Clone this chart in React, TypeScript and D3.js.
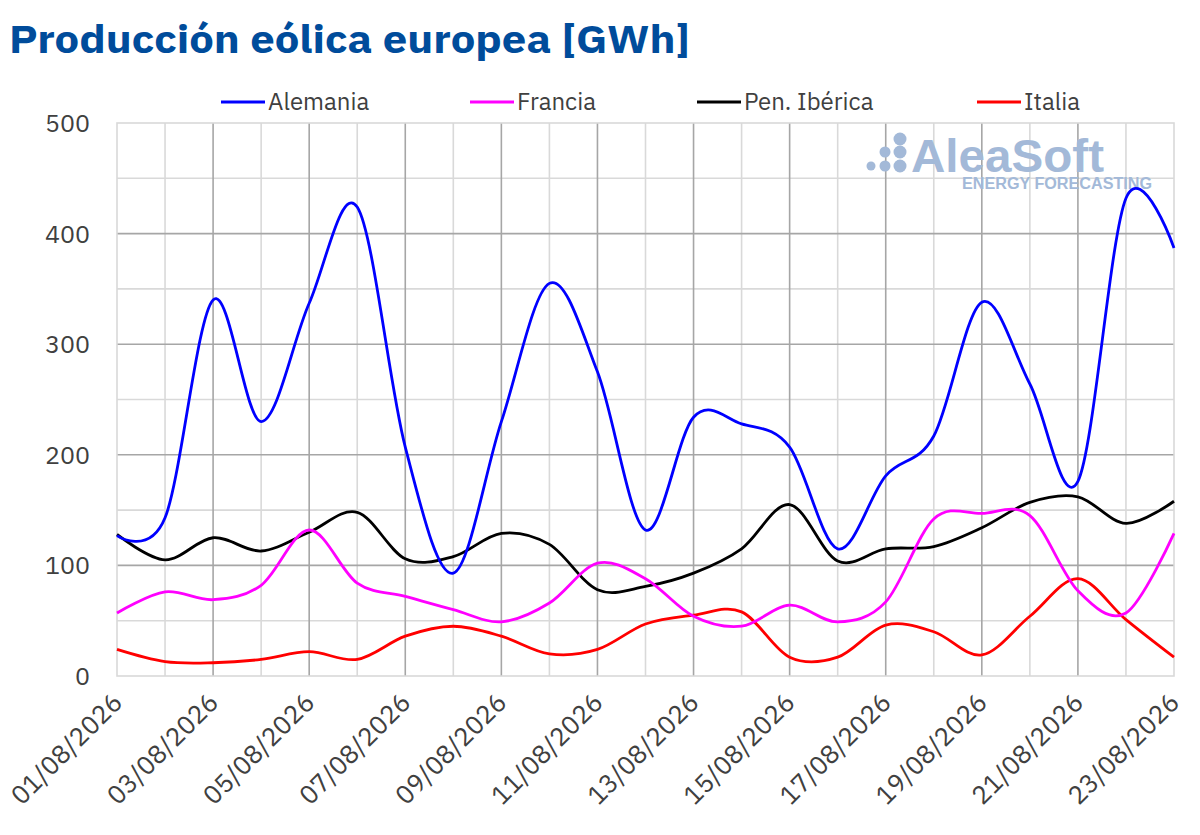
import React, { useEffect, useRef } from "react";
import * as d3 from "d3";

const DATES = [
  "01/08/2026", "02/08/2026", "03/08/2026", "04/08/2026", "05/08/2026", "06/08/2026",
  "07/08/2026", "08/08/2026", "09/08/2026", "10/08/2026", "11/08/2026", "12/08/2026",
  "13/08/2026", "14/08/2026", "15/08/2026", "16/08/2026", "17/08/2026", "18/08/2026",
  "19/08/2026", "20/08/2026", "21/08/2026", "22/08/2026", "23/08/2026",
];

const ALEMANIA = [127, 143, 340, 230, 337, 424, 207, 93, 230, 355, 275, 132, 234, 228, 207, 115, 181, 217, 338, 264, 176, 432, 387];
const FRANCIA = [57, 76, 69, 82, 132, 84, 72, 60, 49, 66, 102, 88, 54, 45, 64, 49, 67, 142, 147, 145, 77, 57, 129];
const IBERICA = [128, 105, 125, 113, 130, 148, 106, 108, 129, 119, 78, 81, 93, 115, 155, 104, 115, 117, 134, 157, 162, 138, 158];
const ITALIA = [24, 13, 12, 15, 22, 15, 36, 45, 36, 20, 24, 47, 55, 58, 17, 17, 46, 40, 19, 54, 88, 51, 17];

const SERIES_NAMES = ["Alemania", "Francia", "Pen. Ibérica", "Italia"];
const SERIES_COLORS = ["#0000ff", "#ff00ff", "#000000", "#ff0000"];
const Y_TICKS = [0, 100, 200, 300, 400, 500];

const TITLE = "Producción eólica europea [GWh]";

export default function App() {
  const svgRef = useRef<SVGSVGElement>(null);

  const width = 1200;
  const height = 835;
  const margin = { top: 123, right: 26, bottom: 159, left: 117 };

  useEffect(() => {
    if (!svgRef.current) return;
    const svg = d3.select(svgRef.current);
    svg.selectAll("*").remove();

    const font = "'IBM Plex Sans', 'Noto Sans', sans-serif";
    const textColor = "#404040";

    const x = d3.scaleLinear()
      .domain([0, DATES.length - 1])
      .range([margin.left, width - margin.right]);
    const y = d3.scaleLinear()
      .domain([0, 500])
      .range([height - margin.bottom, margin.top]);

    const g = svg.append("g");

    // minor grid (every day / every 50)
    const minorX = d3.range(0, DATES.length).filter(i => i % 2 === 1);
    g.selectAll("line.vminor").data(minorX).enter().append("line")
      .attr("x1", d => x(d)).attr("x2", d => x(d))
      .attr("y1", y(500)).attr("y2", y(0))
      .attr("stroke", "#d9d9d9").attr("stroke-width", 1.6);
    g.selectAll("line.hminor").data([50, 150, 250, 350, 450]).enter().append("line")
      .attr("x1", x(0)).attr("x2", x(DATES.length - 1))
      .attr("y1", d => y(d)).attr("y2", d => y(d))
      .attr("stroke", "#d9d9d9").attr("stroke-width", 1.6);

    // major grid
    const majorX = d3.range(2, DATES.length - 1, 2);
    g.selectAll("line.vmajor").data(majorX).enter().append("line")
      .attr("x1", d => x(d)).attr("x2", d => x(d))
      .attr("y1", y(500)).attr("y2", y(0))
      .attr("stroke", "#a6a6a6").attr("stroke-width", 1.6);
    g.selectAll("line.hmajor").data([100, 200, 300, 400]).enter().append("line")
      .attr("x1", x(0)).attr("x2", x(DATES.length - 1))
      .attr("y1", d => y(d)).attr("y2", d => y(d))
      .attr("stroke", "#a6a6a6").attr("stroke-width", 1.6);

    // plot border
    g.append("rect")
      .attr("x", x(0)).attr("y", y(500))
      .attr("width", x(DATES.length - 1) - x(0))
      .attr("height", y(0) - y(500))
      .attr("fill", "none").attr("stroke", "#d9d9d9").attr("stroke-width", 1.6);

    // watermark
    const wm = g.append("g").attr("fill", "#a3b9d8");
    const dots: Array<[number, number, number]> = [
      [900, 139, 6.5],
      [885, 152, 5.5], [900, 152, 6.5],
      [871, 166, 4.5], [885, 166, 5.5], [900, 166, 6.5],
    ];
    dots.forEach(([cx, cy, r]) => wm.append("circle").attr("cx", cx).attr("cy", cy).attr("r", r));
    wm.append("text")
      .attr("x", 911).attr("y", 172)
      .attr("font-family", "Arial, 'Liberation Sans', sans-serif")
      .attr("font-weight", 700).attr("font-size", 46)
      .attr("textLength", 193).attr("lengthAdjust", "spacingAndGlyphs")
      .text("AleaSoft");
    wm.append("text")
      .attr("x", 962).attr("y", 189)
      .attr("font-family", "Arial, 'Liberation Sans', sans-serif")
      .attr("font-weight", 700).attr("font-size", 16)
      .attr("textLength", 190).attr("lengthAdjust", "spacingAndGlyphs")
      .text("ENERGY FORECASTING");

    // series
    const line = d3.line<number>()
      .x((_, i) => x(i))
      .y(d => y(d))
      .curve(d3.curveCardinal.tension(0));

    const seriesData = [ALEMANIA, FRANCIA, IBERICA, ITALIA];
    // draw in reverse so Alemania sits on top
    [3, 2, 1, 0].forEach(k => {
      g.append("path")
        .datum(seriesData[k])
        .attr("d", line)
        .attr("fill", "none")
        .attr("stroke", SERIES_COLORS[k])
        .attr("stroke-width", 2.8)
        .attr("stroke-linejoin", "round");
    });

    // y axis labels
    g.selectAll("text.ytick").data(Y_TICKS).enter().append("text")
      .attr("x", 90).attr("y", d => y(d) + 9)
      .attr("text-anchor", "end")
      .attr("font-family", font).attr("font-size", 25)
      .attr("fill", textColor)
      .text(d => String(d));

    // x axis labels
    const labelIdx = d3.range(0, DATES.length, 2);
    g.selectAll("text.xtick").data(labelIdx).enter().append("text")
      .attr("transform", d => `translate(${x(d) + 7},${y(0) + 28}) rotate(-45)`)
      .attr("text-anchor", "end")
      .attr("font-family", font).attr("font-size", 26)
      .attr("fill", textColor)
      .text(d => DATES[d]);

    // legend
    const legendX = [221, 470, 697, 977];
    SERIES_NAMES.forEach((name, k) => {
      const lg = g.append("g").attr("transform", `translate(${legendX[k]},102)`);
      lg.append("line")
        .attr("x1", 0).attr("x2", 44).attr("y1", 0).attr("y2", 0)
        .attr("stroke", SERIES_COLORS[k]).attr("stroke-width", 2.8);
      lg.append("text")
        .attr("x", 47).attr("y", 8)
        .attr("font-family", font).attr("font-size", 24)
        .attr("fill", textColor)
        .text(name);
    });

    // title
    svg.append("text")
      .attr("x", 9).attr("y", 53)
      .attr("font-family", font).attr("font-weight", 700).attr("font-size", 39)
      .attr("textLength", 681).attr("lengthAdjust", "spacingAndGlyphs")
      .attr("fill", "#004c9b")
      .text(TITLE);
  }, []);

  return (
    <svg
      ref={svgRef}
      width={width}
      height={height}
      viewBox={`0 0 ${width} ${height}`}
      style={{ position: "absolute", left: 0, top: 0, background: "#ffffff" }}
    />
  );
}
